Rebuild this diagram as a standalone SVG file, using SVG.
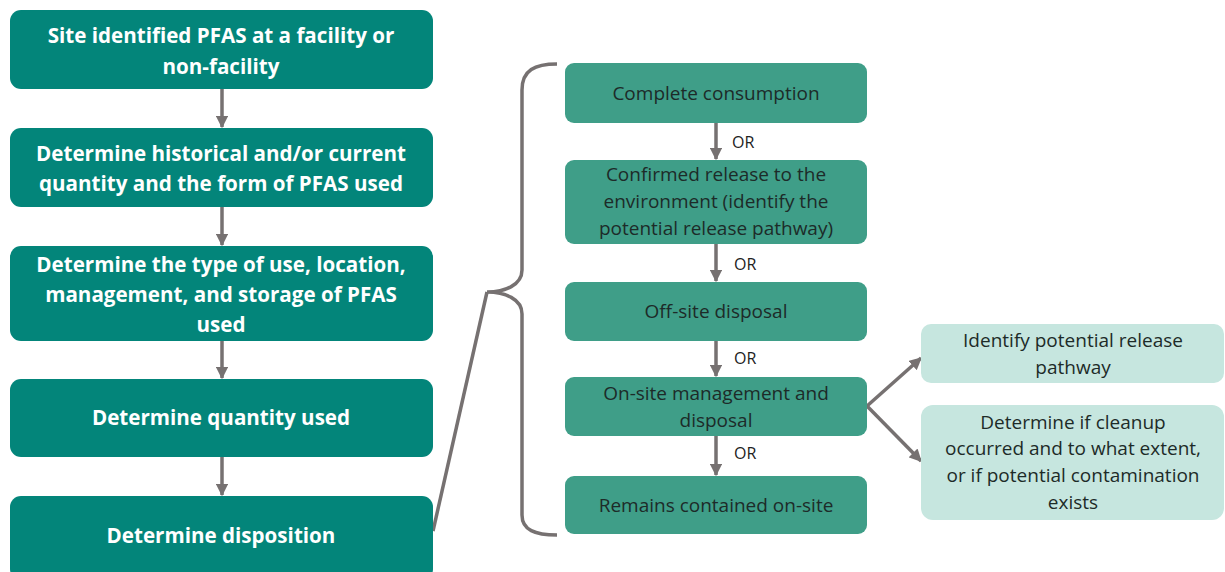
<svg xmlns="http://www.w3.org/2000/svg" width="1225" height="572" viewBox="0 0 1225 572">
<defs>
<style>
.main{fill:#03857a}
.mid{fill:#3f9e88}
.light{fill:#c6e6df}
.tw{font-family:"Open Sans","Liberation Sans",sans-serif;font-weight:bold;font-size:20.6px;fill:#ffffff;text-anchor:middle}
.td{font-family:"Open Sans","Liberation Sans",sans-serif;font-size:19px;fill:#1d2b28;text-anchor:middle}
.tor{font-family:"Open Sans","Liberation Sans",sans-serif;font-size:16px;fill:#222222}
.ln{stroke:#767171;stroke-width:3.5;fill:none}
</style>
<marker id="ah" viewBox="0 0 10 10" refX="9" refY="5" markerWidth="3.6" markerHeight="3.6" orient="auto">
<path d="M0,0 L10,5 L0,10 z" fill="#767171"/>
</marker>
</defs>
<rect width="1225" height="572" fill="#ffffff"/>
<g id="connectors">
<line class="ln" x1="222" y1="89" x2="222" y2="127" marker-end="url(#ah)"/>
<line class="ln" x1="222" y1="207" x2="222" y2="245" marker-end="url(#ah)"/>
<line class="ln" x1="222" y1="341" x2="222" y2="378" marker-end="url(#ah)"/>
<line class="ln" x1="222" y1="457" x2="222" y2="495" marker-end="url(#ah)"/>
<line class="ln" x1="716" y1="123" x2="716" y2="159" marker-end="url(#ah)"/>
<line class="ln" x1="716" y1="244" x2="716" y2="281" marker-end="url(#ah)"/>
<line class="ln" x1="716" y1="341" x2="716" y2="376" marker-end="url(#ah)"/>
<line class="ln" x1="716" y1="436" x2="716" y2="475" marker-end="url(#ah)"/>
<line class="ln" x1="867" y1="406" x2="921" y2="358" marker-end="url(#ah)"/>
<line class="ln" x1="867" y1="406" x2="921" y2="461" marker-end="url(#ah)"/>
<path class="ln" d="M557,64 C535,64 522,70 522,90 L522,270 C522,285 505,292 487,292 C505,292 522,299 522,314 L522,515 C522,530 535,535 557,535"/>
<line class="ln" x1="433" y1="531" x2="487" y2="292"/>
</g>
<g id="n1"><rect class="main" x="10" y="10" width="423" height="79" rx="11"/>
<text class="tw" x="221" y="43">Site identified PFAS at a facility or</text>
<text class="tw" x="221" y="74">non-facility</text></g>
<g id="n2"><rect class="main" x="10" y="128" width="423" height="79" rx="11"/>
<text class="tw" x="221" y="161">Determine historical and/or current</text>
<text class="tw" x="221" y="191">quantity and the form of PFAS used</text></g>
<g id="n3"><rect class="main" x="10" y="246" width="423" height="95" rx="11"/>
<text class="tw" x="221" y="272">Determine the type of use, location,</text>
<text class="tw" x="221" y="302">management, and storage of PFAS</text>
<text class="tw" x="221" y="332">used</text></g>
<g id="n4"><rect class="main" x="10" y="379" width="423" height="78" rx="11"/>
<text class="tw" x="221" y="425">Determine quantity used</text></g>
<g id="n5"><rect class="main" x="10" y="496" width="423" height="84" rx="11"/>
<text class="tw" x="221" y="543">Determine disposition</text></g>
<g id="m1"><rect class="mid" x="565" y="63" width="302" height="60" rx="9"/>
<text class="td" x="716" y="100">Complete consumption</text></g>
<g id="m2"><rect class="mid" x="565" y="160" width="302" height="84" rx="9"/>
<text class="td" x="716" y="181">Confirmed release to the</text>
<text class="td" x="716" y="208">environment (identify the</text>
<text class="td" x="716" y="235">potential release pathway)</text></g>
<g id="m3"><rect class="mid" x="565" y="282" width="302" height="59" rx="9"/>
<text class="td" x="716" y="318">Off-site disposal</text></g>
<g id="m4"><rect class="mid" x="565" y="377" width="302" height="59" rx="9"/>
<text class="td" x="716" y="400">On-site management and</text>
<text class="td" x="716" y="427">disposal</text></g>
<g id="m5"><rect class="mid" x="565" y="476" width="302" height="58" rx="9"/>
<text class="td" x="716" y="512">Remains contained on-site</text></g>
<g id="or-labels">
<text class="tor" x="732" y="148">OR</text>
<text class="tor" x="734" y="270">OR</text>
<text class="tor" x="734" y="364">OR</text>
<text class="tor" x="734" y="459">OR</text>
</g>
<g id="r1"><rect class="light" x="921" y="324" width="303" height="59" rx="10"/>
<text class="td" x="1073" y="347">Identify potential release</text>
<text class="td" x="1073" y="374">pathway</text></g>
<g id="r2"><rect class="light" x="921" y="405" width="303" height="115" rx="12"/>
<text class="td" x="1073" y="429">Determine if cleanup</text>
<text class="td" x="1073" y="455">occurred and to what extent,</text>
<text class="td" x="1073" y="482">or if potential contamination</text>
<text class="td" x="1073" y="509">exists</text></g>
</svg>
